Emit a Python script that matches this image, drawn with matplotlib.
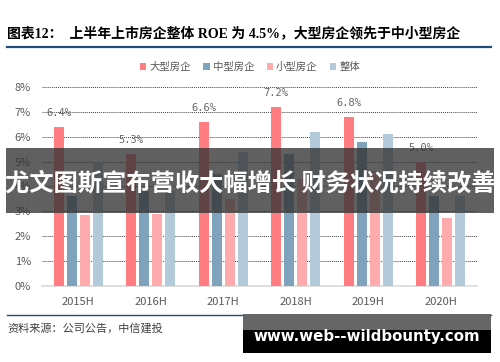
import matplotlib
matplotlib.use("Agg")
import matplotlib.pyplot as plt
import numpy as np
from matplotlib.patches import Rectangle

plt.rcParams['font.family'] = ['Noto Sans CJK SC', 'DejaVu Sans']

categories = ["2015H", "2016H", "2017H", "2018H", "2019H", "2020H"]
series_names = ["大型房企", "中型房企", "小型房企", "整体"]
large = [6.4, 5.3, 6.6, 7.2, 6.8, 5.0]
medium = [3.6, 3.8, 4.5, 5.3, 5.8, 3.6]
small = [2.85, 2.9, 3.5, 4.3, 4.6, 2.75]
overall = [5.0, 3.8, 5.4, 6.2, 6.1, 3.6]
large_labels = ["6.4%", "5.3%", "6.6%", "7.2%", "6.8%", "5.0%"]
yticks = [0, 1, 2, 3, 4, 5, 6, 7, 8]
ytick_labels = ["0%", "1%", "2%", "3%", "4%", "5%", "6%", "7%", "8%"]
colors = ["#FF7C80", "#7FA3BD", "#FFAAAD", "#B3CADA"]

fig = plt.figure(figsize=(5.0, 3.62), dpi=100)
ax = fig.add_axes([0.084, 0.21, 0.87, 0.55])

x = np.arange(len(categories))
w = 0.14
step = 0.18
offs = [-1.5 * step, -0.5 * step, 0.5 * step, 1.5 * step]
data = [large, medium, small, overall]
for d, off, c, n in zip(data, offs, colors, series_names):
    ax.bar(x + off, d, width=w, color=c, label=n, zorder=3)

for xi, v, lab in zip(x, large, large_labels):
    ax.text(xi + offs[0], v + 0.35, lab, ha='center', va='bottom', fontsize=7.5,
            color='#666666', family=['DejaVu Sans Mono'])

ax.set_xlim(-0.5, 5.5)
ax.set_ylim(0, 8)
ax.set_yticks(yticks)
ax.set_yticklabels(ytick_labels)
ax.set_xticks(x)
ax.set_xticklabels(categories)
ax.tick_params(axis='both', length=0, labelsize=8, labelcolor='#595959')
ax.tick_params(axis='x', pad=8)
ax.tick_params(axis='y', pad=8)
for s in ['top', 'right', 'left']:
    ax.spines[s].set_visible(False)
ax.spines['bottom'].set_color('#D9D9D9')
ax.spines['bottom'].set_linewidth(1.2)
ax.yaxis.grid(True, color='#404040', linestyle=(0, (1, 1)), linewidth=0.7, zorder=0)
ax.set_axisbelow(True)

leg = fig.legend(loc='center', bbox_to_anchor=(0.5, 0.815), ncol=4, frameon=False,
                 fontsize=7.5, handlelength=0.6, handleheight=0.6, handletextpad=0.3,
                 columnspacing=1.2)
for t in leg.get_texts():
    t.set_color('#595959')

# Title
fig.text(0.014, 0.908, "图表12：  上半年上市房企整体 ROE 为 4.5%，大型房企领先于中小型房企",
         fontsize=10, fontweight='bold', color='#000000', va='center', ha='left',
         family=['Liberation Serif', 'Noto Sans CJK SC'])
fig.add_artist(plt.Line2D([0.014, 0.982], [0.870, 0.870], color='#1F4E79', linewidth=1.6))
fig.add_artist(plt.Line2D([0.014, 0.982], [0.130, 0.130], color='#1F4E79', linewidth=1.0))
fig.text(0.014, 0.094, "资料来源：公司公告，中信建投", fontsize=8, color='#404040',
         style='italic', va='center', ha='left')

# Overlay banner
fig.add_artist(Rectangle((0.012, 1 - 213 / 362), 0.976, 65 / 362, transform=fig.transFigure,
                         facecolor='#333333', alpha=0.78, edgecolor='none', zorder=10))
fig.text(0.5, 1 - 183 / 362, "尤文图斯宣布营收大幅增长 财务状况持续改善", fontsize=17.5,
         fontweight='bold', color='white', ha='center', va='center', zorder=11)

# Watermark
fig.add_artist(Rectangle((243 / 500, 1 - 330 / 362), 248 / 500, 16 / 362, transform=fig.transFigure,
                         facecolor='#666666', edgecolor='none', zorder=10))
fig.add_artist(Rectangle((243 / 500, 1 - 353 / 362), 248 / 500, 23 / 362, transform=fig.transFigure,
                         facecolor='#000000', edgecolor='none', zorder=10))
fig.text(367 / 500, 1 - 337 / 362, "www.web--wildbounty.com", fontsize=10.8, fontweight='bold',
         color='white', ha='center', va='center', zorder=11, family=['DejaVu Sans'])

fig.savefig("out.png", dpi=100)
